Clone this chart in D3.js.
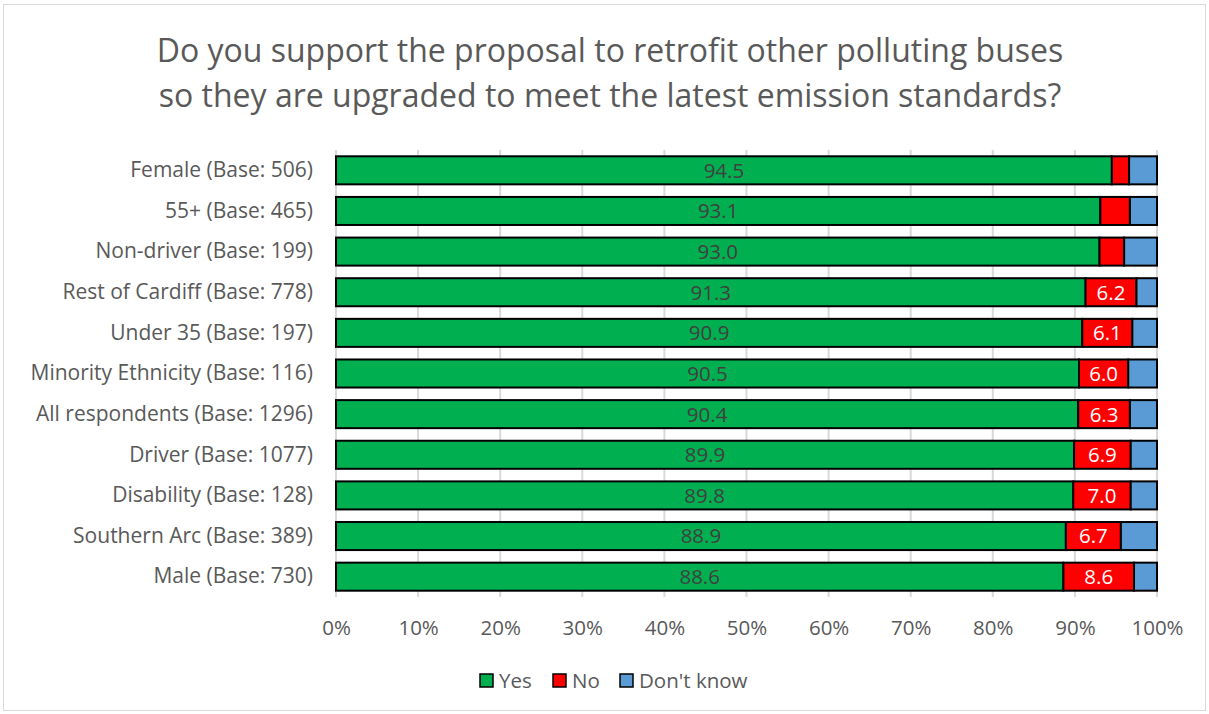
<!DOCTYPE html>
<html><head><meta charset="utf-8">
<script src="https://cdn.jsdelivr.net/npm/d3@7"></script>
<style>body{margin:0;background:#fff}svg{display:block}</style>
</head><body>
<svg id="c" width="1209" height="714"></svg>
<script>
const categories = ["Female (Base: 506)","55+ (Base: 465)","Non-driver (Base: 199)","Rest of Cardiff (Base: 778)","Under 35 (Base: 197)","Minority Ethnicity (Base: 116)","All respondents (Base: 1296)","Driver (Base: 1077)","Disability (Base: 128)","Southern Arc (Base: 389)","Male (Base: 730)"];
const yesValues = [94.5,93.1,93.0,91.3,90.9,90.5,90.4,89.9,89.8,88.9,88.6];
const noValues = [2.1,3.6,3.0,6.2,6.1,6.0,6.3,6.9,7.0,6.7,8.6];
const dkValues = [3.4,3.3,4.0,2.5,3.0,3.5,3.3,3.2,3.2,4.4,2.8];
const seriesNames = ["Yes","No","Don't know"];
const seriesColors = ["#00b050","#ff0000","#5b9bd5"];
const tickValues = [0,10,20,30,40,50,60,70,80,90,100];
const titleLines = ["Do you support the proposal to retrofit other polluting buses","so they are upgraded to meet the latest emission standards?"];

const svg = d3.select("#c");
const font = "'Open Sans', sans-serif";
svg.append("rect").attr("x",3.5).attr("y",4.5).attr("width",1202).attr("height",706)
  .attr("fill","#fff").attr("stroke","#d9d9d9");

const x = d3.scaleLinear().domain([0,100]).range([336,1157]);
const y = d3.scaleBand().domain(categories).range([150,597]).paddingInner(0.31).paddingOuter(0.155);

// title
svg.append("g").selectAll("text").data(titleLines).join("text")
  .attr("x",610).attr("y",(d,i)=>62+i*45).attr("text-anchor","middle")
  .attr("font-family",font).attr("font-size",32).attr("fill","#595959").text(d=>d);

// gridlines
svg.append("g").selectAll("line").data(tickValues).join("line")
  .attr("x1",d=>x(d)).attr("x2",d=>x(d)).attr("y1",150).attr("y2",597)
  .attr("stroke","#d9d9d9").attr("stroke-width",2);

// axis
const xAxis = svg.append("g").attr("transform","translate(0,597)")
  .call(d3.axisBottom(x).tickValues(tickValues).tickFormat(d=>d+"%").tickSize(0).tickPadding(23));
xAxis.select(".domain").remove();
xAxis.selectAll("text").attr("font-family",font).attr("font-size",20.5).attr("fill","#595959");

const yAxis = svg.append("g").attr("transform","translate(322,0)")
  .call(d3.axisLeft(y).tickSize(0).tickPadding(9));
yAxis.select(".domain").remove();
yAxis.selectAll("text").attr("font-family",font).attr("font-size",21).attr("fill","#595959");

const rows = categories.map((c,i)=>({cat:c, vals:[yesValues[i],noValues[i],dkValues[i]]}));
const segs = [];
rows.forEach(r=>{let s=0; r.vals.forEach((v,k)=>{segs.push({cat:r.cat,k,x0:s,x1:s+v,v}); s+=v;});});

svg.append("g").selectAll("rect").data(segs).join("rect")
  .attr("x",d=>x(d.x0)).attr("width",d=>x(d.x1)-x(d.x0))
  .attr("y",d=>y(d.cat)).attr("height",y.bandwidth())
  .attr("fill",d=>seriesColors[d.k]).attr("stroke","#000").attr("stroke-width",2);

svg.append("g").selectAll("text").data(segs.filter(d=>d.k===0 || (d.k===1 && d.v>=5)))
  .join("text")
  .attr("x",d=>x((d.x0+d.x1)/2)).attr("y",d=>y(d.cat)+y.bandwidth()/2)
  .attr("dy","0.36em").attr("text-anchor","middle")
  .attr("font-family",font).attr("font-size",20.5)
  .attr("fill",d=>d.k===0?"#404040":"#ffffff").text(d=>d.v.toFixed(1));

// legend
const lx = [480,553,620];
const lg = svg.append("g").selectAll("g").data(seriesNames).join("g")
  .attr("transform",(d,i)=>`translate(${lx[i]},674)`);
lg.append("rect").attr("width",13).attr("height",13).attr("fill",(d,i)=>seriesColors[i])
  .attr("stroke","#000").attr("stroke-width",1.5);
lg.append("text").attr("x",19).attr("y",7).attr("dy","0.36em")
  .attr("font-family",font).attr("font-size",20.5).attr("fill","#595959").text(d=>d);
</script>
</body></html>
